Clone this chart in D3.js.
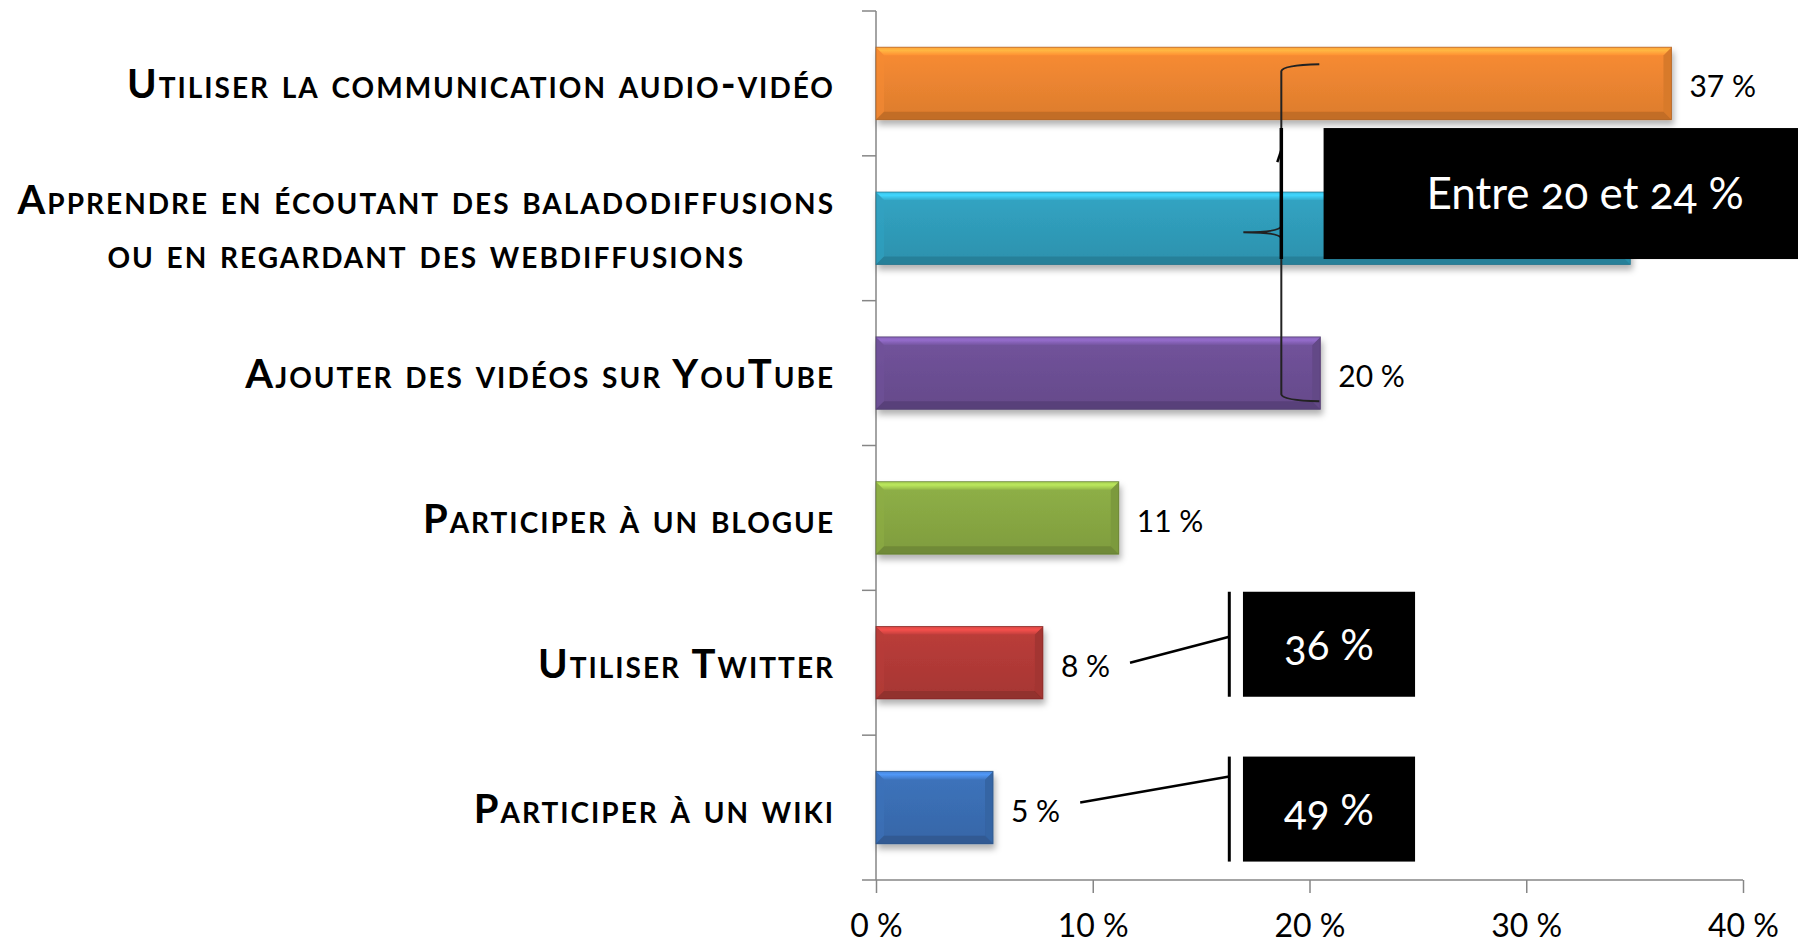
<!DOCTYPE html>
<html><head><meta charset="utf-8">
<script src="https://cdn.jsdelivr.net/npm/d3@7"></script>
<style>
html,body{margin:0;padding:0;background:#fff;overflow:hidden}
svg{display:block}
</style></head><body>
<svg id="chart" width="1798" height="945"></svg>
<script>
// ---- data ----
const categories = [
  "Utiliser la communication audio-vidéo",
  "Apprendre en écoutant des baladodiffusions\nou en regardant des webdiffusions",
  "Ajouter des vidéos sur YouTube",
  "Participer à un blogue",
  "Utiliser Twitter",
  "Participer à un wiki"
];
const values = [36.7, 34.8, 20.5, 11.2, 7.7, 5.4];
// the label of the second bar is hidden behind the annotation box in the reference
const valueLabels = ["37 %", null, "20 %", "11 %", "8 %", "5 %"];
const xTicks = [0, 10, 20, 30, 40];
const xTickLabels = ["0 %", "10 %", "20 %", "30 %", "40 %"];
const rangeNoteText = "Entre 20 et 24 %";
const rangeNoteCategories = [categories[0], categories[1], categories[2]];
const calloutCategories = ["Utiliser Twitter", "Participer à un wiki"];
const calloutTexts = ["36 %", "49 %"];

// ---- styles ----
const barColors = ["#EC8530", "#2F9CBA", "#6C4F94", "#88A843", "#B23A37", "#3A6EB3"];
const axisColor = "#868686";

// ---- layout ----
const svg = d3.select("#chart");
const x = d3.scaleLinear().domain([0, 40]).range([876, 1743]);
const y = d3.scaleBand().domain(categories).range([11, 880]).paddingInner(0.5).paddingOuter(0.25);
const bw = y.bandwidth(), step = y.step();
const cy = c => y(c) + bw / 2;

const defs = svg.append("defs");
const f = defs.append("filter").attr("id", "shadow").attr("x", "-10%").attr("y", "-30%").attr("width", "130%").attr("height", "170%");
f.append("feDropShadow").attr("dx", 2).attr("dy", 5).attr("stdDeviation", 3).attr("flood-color", "#000").attr("flood-opacity", 0.3);

barColors.forEach((c, i) => {
  const base = d3.rgb(c);
  const g = defs.append("linearGradient").attr("id", "g" + i).attr("x1", 0).attr("y1", 0).attr("x2", 0).attr("y2", 1);
  g.append("stop").attr("offset", "0%").attr("stop-color", base.brighter(0.15));
  g.append("stop").attr("offset", "100%").attr("stop-color", base.darker(0.2));
  const t = defs.append("linearGradient").attr("id", "t" + i).attr("x1", 0).attr("y1", 0).attr("x2", 0).attr("y2", 1);
  t.append("stop").attr("offset", "0%").attr("stop-color", base.brighter(0.6));
  t.append("stop").attr("offset", "40%").attr("stop-color", base.brighter(0.9));
  t.append("stop").attr("offset", "100%").attr("stop-color", base.brighter(0.25));
});

// ---- axes ----
const yAxisG = svg.append("g");
yAxisG.append("line").attr("x1", x(0)).attr("x2", x(0)).attr("y1", y.range()[0]).attr("y2", y.range()[1])
  .attr("stroke", axisColor).attr("stroke-width", 1.5);
const boundaries = categories.map(c => y(c) - step * 0.25).concat([y.range()[1]]);
yAxisG.selectAll("line.tk").data(boundaries).join("line").attr("class", "tk")
  .attr("x1", x(0) - 14).attr("x2", x(0)).attr("y1", d => d).attr("y2", d => d)
  .attr("stroke", axisColor).attr("stroke-width", 1.5);

const xAxis = d3.axisBottom(x).tickValues(xTicks).tickSize(13).tickPadding(21)
  .tickFormat((d, i) => xTickLabels[i]);
const xg = svg.append("g").attr("transform", `translate(0,${y.range()[1]})`).call(xAxis);
xg.select(".domain").attr("stroke", axisColor).attr("stroke-width", 1.5).attr("d", `M${x(0)},0H${x(40)}`);
xg.selectAll(".tick line").attr("stroke", axisColor).attr("stroke-width", 1.5);
xg.selectAll(".tick text").attr("fill", "#000").attr("font-family", "Lato, 'Liberation Sans', sans-serif")
  .attr("font-size", 32).attr("dy", "0.71em");

// ---- bars ----
const B = 8;
const bars = svg.append("g").selectAll("g.bar").data(values).join("g").attr("class", "bar")
  .attr("filter", "url(#shadow)");
bars.each(function (v, i) {
  const g = d3.select(this);
  const x0 = x(0), x1 = x(v), y0 = y(categories[i]), y1 = y0 + bw;
  const base = d3.rgb(barColors[i]);
  g.append("rect").attr("x", x0).attr("y", y0).attr("width", x1 - x0).attr("height", bw).attr("fill", `url(#g${i})`);
  g.append("path").attr("d", `M${x0},${y0}L${x0 + B},${y0 + B}L${x0 + B},${y1 - B}L${x0},${y1}Z`).attr("fill", base.brighter(0.1)).attr("opacity", 0.6);
  g.append("path").attr("d", `M${x1},${y0}L${x1 - B},${y0 + B}L${x1 - B},${y1 - B}L${x1},${y1}Z`).attr("fill", base.darker(0.25));
  g.append("path").attr("d", `M${x0},${y0}L${x1},${y0}L${x1 - B},${y0 + B}L${x0 + B},${y0 + B}Z`).attr("fill", `url(#t${i})`);
  g.append("path").attr("d", `M${x0},${y1}L${x1},${y1}L${x1 - B},${y1 - B}L${x0 + B},${y1 - B}Z`).attr("fill", base.darker(0.55));
  g.append("rect").attr("x", x0).attr("y", y0).attr("width", x1 - x0).attr("height", bw)
    .attr("fill", "none").attr("stroke", base.darker(0.9)).attr("stroke-width", 1).attr("stroke-opacity", 0.7);
});

// ---- value labels ----
const vl = svg.append("g").selectAll("text").data(values).join("text")
  .attr("x", d => x(d) + 18).attr("y", (d, i) => cy(categories[i]) + 14)
  .attr("font-family", "Lato, 'Liberation Sans', sans-serif").attr("font-size", 30).attr("fill", "#000")
  .text((d, i) => valueLabels[i] || "");

// ---- category labels ----
const cl = svg.append("g").selectAll("text").data(categories).join("text")
  .attr("font-family", "Lato, 'Liberation Sans', sans-serif").attr("font-weight", "bold")
  .style("font-variant", "small-caps").style("letter-spacing", "2px").attr("font-size", 40).attr("fill", "#000");
cl.each(function (c) {
  const t = d3.select(this);
  const lines = c.split("\n");
  const xr = x(0) - 41;
  if (lines.length === 1) {
    t.attr("x", xr).attr("y", cy(c) + 15).attr("text-anchor", "end").text(c);
  } else {
    const t1 = t.append("tspan").attr("x", xr).attr("y", cy(c) - 14).attr("text-anchor", "end").text(lines[0]);
    const w1 = t1.node().getComputedTextLength();
    t.append("tspan").attr("x", xr - w1 / 2).attr("y", cy(c) + 40).attr("text-anchor", "middle").text(lines[1]);
  }
});

// ---- range annotation (brace + box) ----
const bx = x(18.7);
const bt = y(rangeNoteCategories[0]) + 17;
const bm = cy(rangeNoteCategories[1]) + 4;
const bb = y(rangeNoteCategories[2]) + bw - 8;
svg.append("path")
  .attr("d", `M${bx + 38},${bt}Q${bx + 1},${bt + 1} ${bx},${bt + 7}L${bx},${bm - 6}Q${bx - 2},${bm} ${bx - 38},${bm}Q${bx - 2},${bm} ${bx},${bm + 6}L${bx},${bb - 7}Q${bx + 1},${bb - 1} ${bx + 38},${bb}`)
  .attr("fill", "none").attr("stroke", "#222").attr("stroke-width", 2);
const boxTop = y(rangeNoteCategories[1]) - 64, boxBot = y(rangeNoteCategories[1]) + 67;
svg.append("line").attr("x1", bx).attr("x2", bx).attr("y1", boxTop).attr("y2", boxBot).attr("stroke", "#000").attr("stroke-width", 3.5);
svg.append("path").attr("d", `M${bx - 4},${boxTop + 34}L${bx},${boxTop + 22}`).attr("stroke", "#000").attr("stroke-width", 2.5);
const rbx0 = x(20.65), rbx1 = rbx0 + 523;
svg.append("rect").attr("x", rbx0).attr("y", boxTop).attr("width", rbx1 - rbx0).attr("height", boxBot - boxTop).attr("fill", "#000");
svg.append("text").attr("x", (rbx0 + rbx1) / 2).attr("y", (boxTop + boxBot) / 2 + 15.5).attr("text-anchor", "middle")
  .attr("font-family", "Lato, 'Noto Sans', sans-serif").attr("font-size", 44).attr("fill", "#fff")
  .style("font-variant-numeric", "oldstyle-nums").text(rangeNoteText);

// ---- callouts ----
const calloutLayout = [{ boxDy: -71, from: 0, to: -26 }, { boxDy: -51, from: -5, to: -31 }];
calloutCategories.forEach((c, k) => {
  const i = categories.indexOf(c);
  const L = calloutLayout[k];
  const cc = cy(c);
  const labelEnd = x(values[i]) + 18 + vl.nodes()[i].getComputedTextLength();
  const lx = x(16.3), bx0 = x(16.93), bx1 = x(24.87);
  const top = cc + L.boxDy, bot = top + 105;
  svg.append("line").attr("x1", labelEnd + 20).attr("y1", cc + L.from).attr("x2", lx).attr("y2", cc + L.to)
    .attr("stroke", "#000").attr("stroke-width", 2.5);
  svg.append("line").attr("x1", lx).attr("x2", lx).attr("y1", top).attr("y2", bot).attr("stroke", "#000").attr("stroke-width", 3);
  svg.append("rect").attr("x", bx0).attr("y", top).attr("width", bx1 - bx0).attr("height", bot - top).attr("fill", "#000");
  svg.append("text").attr("x", (bx0 + bx1) / 2).attr("y", (top + bot) / 2 + 16).attr("text-anchor", "middle")
    .attr("font-family", "Lato, 'Noto Sans', sans-serif").attr("font-size", 42).attr("fill", "#fff")
    .style("font-variant-numeric", "oldstyle-nums").text(calloutTexts[k]);
});
</script>
</body></html>
